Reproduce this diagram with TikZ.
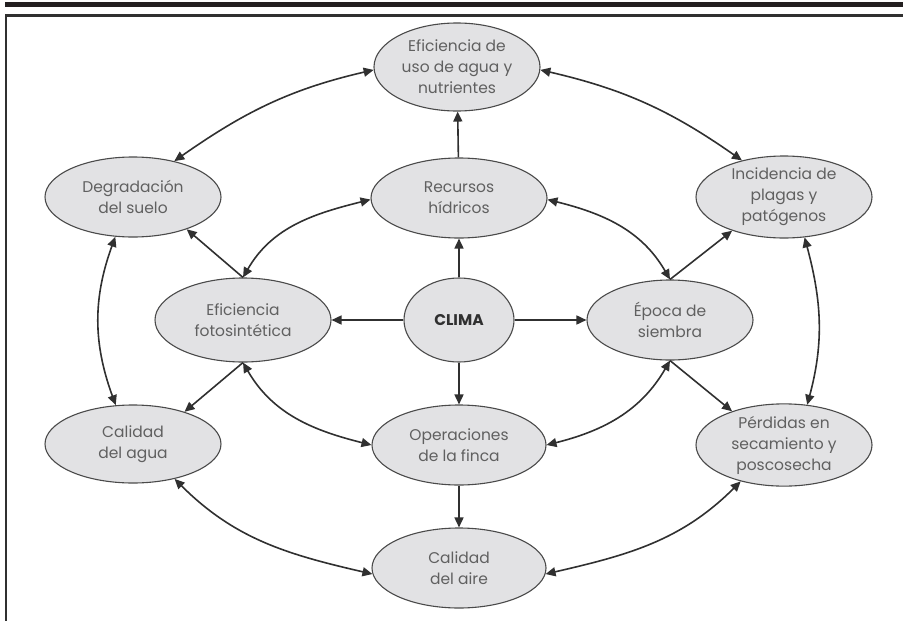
\documentclass[tikz,border=0pt]{standalone}
\usepackage{fontspec}
\setmainfont{Poppins}
\usetikzlibrary{shapes.geometric,arrows.meta}
\definecolor{bubble}{HTML}{E2E2E4}
\definecolor{rim}{HTML}{4A4A4A}
\definecolor{ink}{HTML}{606060}
\definecolor{wire}{HTML}{303030}
\definecolor{bar}{HTML}{231F20}
\begin{document}
\begin{tikzpicture}[x=1pt,y=-1pt,
  bubblenode/.style={ellipse,draw=rim,line width=1.1pt,fill=bubble,
    inner sep=0pt,align=center,text=ink,
    font=\fontsize{15.5}{21}\selectfont},
  link/.style={draw=wire,line width=1.6pt,-{Triangle[length=10pt,width=9pt]}},
  twoway/.style={draw=wire,line width=1.6pt,
    {Triangle[length=10pt,width=9pt]}-{Triangle[length=10pt,width=9pt]}}]
\useasboundingbox (0,0) rectangle (903,621);
% header bar and frame
\fill[bar] (5,2) rectangle (903,6.8);
\draw[wire,line width=2.4pt] (6.2,621) -- (6.2,15.4) -- (903,15.4);

% nodes
\node[bubblenode,minimum width=166pt,minimum height=88pt] (T) at (457,67)
  {Eficiencia de\\uso de agua y\\nutrientes};
\node[bubblenode,minimum width=176pt,minimum height=80pt] (D) at (133,197)
  {Degradación\\del suelo};
\node[bubblenode,minimum width=176pt,minimum height=80pt] (R) at (459,198)
  {Recursos\\hídricos};
\node[bubblenode,minimum width=176pt,minimum height=80pt] (I) at (784,197)
  {Incidencia de\\plagas y\\patógenos};
\node[bubblenode,minimum width=176pt,minimum height=84pt] (EF) at (243,320)
  {Eficiencia\\fotosintética};
\node[bubblenode,minimum width=110pt,minimum height=84pt,text=wire,
  font=\fontsize{15.5}{21}\selectfont\bfseries] (C) at (459,320) {CLIMA};
\node[bubblenode,minimum width=166pt,minimum height=80pt] (E) at (670,320)
  {Época de\\siembra};
\node[bubblenode,minimum width=176pt,minimum height=78pt] (CA) at (133,444)
  {Calidad\\del agua};
\node[bubblenode,minimum width=174pt,minimum height=80pt] (O) at (459,445)
  {Operaciones\\de la finca};
\node[bubblenode,minimum width=176pt,minimum height=80pt] (P) at (784,445)
  {Pérdidas en\\secamiento y\\poscosecha};
\node[bubblenode,minimum width=174pt,minimum height=80pt] (A) at (459,568)
  {Calidad\\del aire};

% straight links from the centre
\draw[link] (C) -- (R);
\draw[link] (C) -- (EF);
\draw[link] (C) -- (E);
\draw[link] (C) -- (O);
\draw[link] (R) -- (T);
\draw[link] (O) -- (A);

% diagonal links
\draw[link] (EF.90) -- (D.-31);
\draw[link] (EF.-90) -- (CA.32);
\draw[link] (E.90) -- (I.213);
\draw[link] (E.-90) -- (P.147);

% outer ring
\draw[twoway] (T.182) to[out=193,in=35] (D.41);
\draw[twoway] (T.-2) to[out=-13,in=145] (I.139);
\draw[twoway] (D.246) to[out=250,in=110] (CA.114);
\draw[twoway] (I.-63) to[out=-75,in=75] (P.60);
\draw[twoway] (CA.-40) to[out=-45,in=167] (A.184);
\draw[twoway] (P.220) to[out=225,in=13] (A.-4);

% inner ring
\draw[twoway] (EF.90) to[out=60,in=194] (R.181);
\draw[twoway] (R.-1) to[out=-14,in=120] (E.90);
\draw[twoway] (EF.-90) to[out=-60,in=166] (O.180);
\draw[twoway] (E.-90) to[out=240,in=14] (O.0);
\end{tikzpicture}
\end{document}
